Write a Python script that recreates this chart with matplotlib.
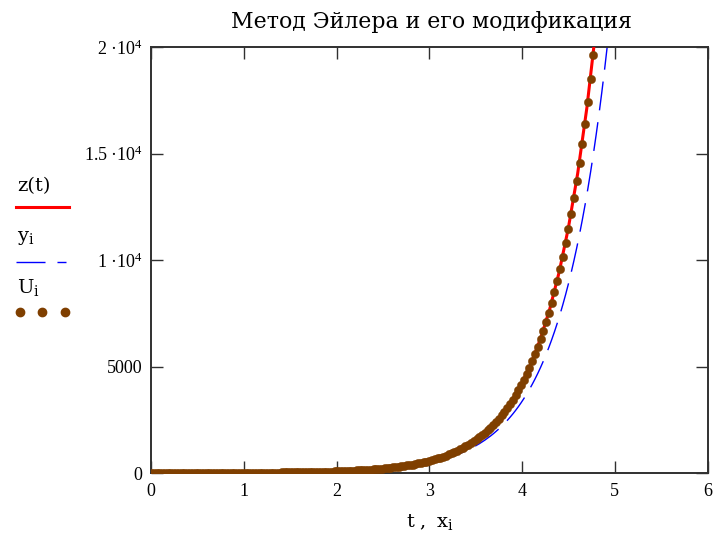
import matplotlib
matplotlib.use("Agg")
import matplotlib.pyplot as plt
from matplotlib.lines import Line2D

plt.rcParams['font.family'] = ['Liberation Serif', 'DejaVu Serif']
plt.rcParams['mathtext.fontset'] = 'custom'
plt.rcParams['mathtext.rm'] = 'Liberation Serif'
plt.rcParams['mathtext.it'] = 'Liberation Serif:italic'
plt.rcParams['lines.scale_dashes'] = False

# ---------------- data ----------------
title = "Метод Эйлера и его модификация"

# grid x_i
x_i = [0.00,0.03,0.06,0.09,0.12,0.15,0.18,0.21,0.24,0.27,
       0.30,0.33,0.36,0.39,0.42,0.45,0.48,0.51,0.54,0.57,
       0.60,0.63,0.66,0.69,0.72,0.75,0.78,0.81,0.84,0.87,
       0.90,0.93,0.96,0.99,1.02,1.05,1.08,1.11,1.14,1.17,
       1.20,1.23,1.26,1.29,1.32,1.35,1.38,1.41,1.44,1.47,
       1.50,1.53,1.56,1.59,1.62,1.65,1.68,1.71,1.74,1.77,
       1.80,1.83,1.86,1.89,1.92,1.95,1.98,2.01,2.04,2.07,
       2.10,2.13,2.16,2.19,2.22,2.25,2.28,2.31,2.34,2.37,
       2.40,2.43,2.46,2.49,2.52,2.55,2.58,2.61,2.64,2.67,
       2.70,2.73,2.76,2.79,2.82,2.85,2.88,2.91,2.94,2.97,
       3.00,3.03,3.06,3.09,3.12,3.15,3.18,3.21,3.24,3.27,
       3.30,3.33,3.36,3.39,3.42,3.45,3.48,3.51,3.54,3.57,
       3.60,3.63,3.66,3.69,3.72,3.75,3.78,3.81,3.84,3.87,
       3.90,3.93,3.96,3.99,4.02,4.05,4.08,4.11,4.14,4.17,
       4.20,4.23,4.26,4.29,4.32,4.35,4.38,4.41,4.44,4.47,
       4.50,4.53,4.56,4.59,4.62,4.65,4.68,4.71,4.74,4.77,
       4.80,4.83,4.86,4.89,4.92,4.95]

# modified Euler U_i (dots)
U_i = [1.42, 1.51, 1.60, 1.70, 1.80, 1.92, 2.03, 2.16, 2.29, 2.44,
       2.59, 2.75, 2.92, 3.10, 3.29, 3.49, 3.71, 3.94, 4.18, 4.44,
       4.71, 5.00, 5.31, 5.64, 5.99, 6.36, 6.75, 7.17, 7.61, 8.08,
       8.58, 9.11, 9.68, 10.27, 10.91, 11.58, 12.30, 13.06, 13.86, 14.72,
       15.63, 16.60, 17.62, 18.71, 19.87, 21.10, 22.40, 23.78, 25.25, 26.82,
       28.47, 30.23, 32.10, 34.08, 36.19, 38.43, 40.80, 43.32, 46.00, 48.84,
       51.86, 55.07, 58.47, 62.08, 65.92, 70.00, 74.32, 78.91, 83.79, 88.97,
       94.5, 100.3, 106.5, 113.1, 120.1, 127.5, 135.4, 143.7, 152.6, 162.1,
       172.1, 182.7, 194.0, 206.0, 218.7, 232.2, 246.6, 261.8, 278.0, 295.2,
       313.4, 332.8, 353.4, 375.2, 398.4, 423.0, 449.2, 476.9, 506.4, 537.7,
       570.9, 606.2, 643.6, 683.4, 725.7, 770.5, 818.1, 868.7, 922.4, 979.4,
       1040, 1104, 1172, 1245, 1322, 1403, 1490, 1582, 1680, 1784,
       1894, 2011, 2136, 2267, 2408, 2556, 2714, 2882, 3060, 3249,
       3450, 3663, 3890, 4130, 4385, 4657, 4944, 5250, 5574, 5919,
       6285, 6673, 7085, 7523, 7988, 8482, 9006, 9562, 10153, 10781,
       11447, 12155, 12906, 13703, 14550, 15450, 16404, 17418, 18494, 19638,
       20851, 22140, 23508, 24961, 26503, 28141]

# Euler y_i (blue dashed)
y_i = [1.42, 1.51, 1.60, 1.69, 1.79, 1.90, 2.01, 2.14, 2.26, 2.40,
       2.54, 2.70, 2.86, 3.03, 3.21, 3.40, 3.61, 3.82, 4.05, 4.30,
       4.55, 4.83, 5.12, 5.42, 5.75, 6.09, 6.46, 6.85, 7.26, 7.69,
       8.16, 8.65, 9.16, 9.71, 10.30, 10.91, 11.57, 12.26, 13.00, 13.78,
       14.61, 15.48, 16.41, 17.40, 18.44, 19.55, 20.72, 21.96, 23.28, 24.68,
       26.16, 27.73, 29.39, 31.15, 33.02, 35.00, 37.10, 39.33, 41.69, 44.19,
       46.84, 49.65, 52.63, 55.79, 59.14, 62.69, 66.45, 70.43, 74.66, 79.14,
       83.9, 88.9, 94.3, 99.9, 105.9, 112.3, 119.0, 126.1, 133.7, 141.7,
       150.2, 159.2, 168.8, 178.9, 189.7, 201.0, 213.1, 225.9, 239.4, 253.8,
       269.0, 285.2, 302.3, 320.4, 339.7, 360.0, 381.6, 404.5, 428.8, 454.5,
       481.8, 510.7, 541.4, 573.8, 608.3, 644.8, 683.5, 724.5, 767.9, 814.0,
       862.8, 914.6, 969.5, 1028, 1089, 1155, 1224, 1297, 1375, 1458,
       1545, 1638, 1736, 1840, 1951, 2068, 2192, 2323, 2463, 2611,
       2767, 2933, 3109, 3296, 3494, 3703, 3925, 4161, 4411, 4675,
       4956, 5253, 5568, 5902, 6257, 6632, 7030, 7452, 7899, 8373,
       8875, 9408, 9972, 10570, 11205, 11877, 12589, 13345, 14145, 14994,
       15894, 16847, 17858, 18930, 20066, 21270]

# exact solution z(t) (red line)
t = [0.0, 0.1, 0.2, 0.3, 0.4, 0.5, 0.6, 0.7, 0.8, 0.9,
     1.0, 1.1, 1.2, 1.3, 1.4, 1.5, 1.6, 1.7, 1.8, 1.9,
     2.0, 2.1, 2.2, 2.3, 2.4, 2.5, 2.6, 2.7, 2.8, 2.9,
     3.0, 3.1, 3.2, 3.3, 3.4, 3.5, 3.6, 3.7, 3.8, 3.9,
     4.0, 4.1, 4.2, 4.3, 4.4, 4.5, 4.6, 4.7, 4.8, 4.9,
     5.0]
z_t = [1.42, 1.73, 2.12, 2.59, 3.16, 3.86, 4.71, 5.76, 7.03, 8.59,
       10.49, 12.82, 15.65, 19.12, 23.35, 28.52, 34.84, 42.55, 51.97, 63.48,
       77.5, 94.7, 115.7, 141.3, 172.5, 210.7, 257.4, 314.4, 384.0, 469.0,
       572.9, 699.7, 854.6, 1044, 1275, 1557, 1902, 2323, 2837, 3466,
       4233, 5170, 6315, 7713, 9421, 11506, 14054, 17166, 20966, 25608,
       31278]

x_ticks = [0, 1, 2, 3, 4, 5, 6]
x_tick_labels = ['0', '1', '2', '3', '4', '5', '6']
y_ticks = [0, 5000, 10000, 15000, 20000]
y_tick_labels = ['0', '5000', r'$\mathrm{1\ ·10^{4}}$', r'$\mathrm{1.5\ ·10^{4}}$', r'$\mathrm{2\ ·10^{4}}$']

RED = '#ff0000'
BLUE = '#0000ff'
BROWN = '#7f3f00'
FRAME = '#303030'
MS = 6.0

# ---------------- figure ----------------
W, H = 714, 539
fig = plt.figure(figsize=(W / 100, H / 100), dpi=100)
ax = fig.add_axes([151 / W, 1 - 473 / H, (707.5 - 151) / W, (473 - 47) / H])

ax.plot(x_i, y_i, color=BLUE, lw=1.0, dashes=(20.9, 8.6), zorder=2)
ax.plot(t, z_t, color=RED, lw=2.2, zorder=3)
ax.plot(x_i, U_i, linestyle='none', marker='o', markersize=MS,
        markerfacecolor=BROWN, markeredgecolor=BROWN, markeredgewidth=0.3, zorder=4)

ax.set_xlim(0, 6)
ax.set_ylim(0, 20000)
ax.set_xticks(x_ticks)
ax.set_xticklabels(x_tick_labels)
ax.set_yticks(y_ticks)
ax.set_yticklabels(y_tick_labels)
ax.tick_params(direction='in', length=8.6, width=1.0, color=FRAME,
               top=True, right=True, labelsize=13, labelcolor='black')
ax.tick_params(axis='x', pad=7)
ax.tick_params(axis='y', pad=6)
for s in ax.spines.values():
    s.set_color(FRAME)
    s.set_linewidth(1.4)

ax.set_xlabel(r'$\mathrm{t\ ,\ x_i}$', fontsize=14, labelpad=9,
              math_fontfamily='dejavuserif')

fig.text(431 / W, 1 - 22 / H, title, ha='center', va='center',
         fontsize=15.8, family=['DejaVu Serif'])

# ---------------- legend (Mathcad style, left margin) ----------------
fig.text(17 / W, 1 - 186 / H, 'z(t)', ha='left', va='center', fontsize=14,
         family=['DejaVu Serif'])
fig.add_artist(Line2D([16 / W, 69 / W], [1 - 207 / H] * 2, color=RED, lw=2.2,
                      transform=fig.transFigure))
fig.text(17 / W, 1 - 238 / H, r'$\mathrm{y_i}$', ha='left', va='center', fontsize=14,
         math_fontfamily='dejavuserif')
fig.add_artist(Line2D([16 / W, 66 / W], [1 - 262 / H] * 2, color=BLUE, lw=1.0,
                      dashes=(20.9, 8.6), transform=fig.transFigure))
fig.text(17 / W, 1 - 287 / H, r'$\mathrm{U_i}$', ha='left', va='center', fontsize=14,
         math_fontfamily='dejavuserif')
fig.add_artist(Line2D([20 / W, 42 / W, 65 / W], [1 - 312 / H] * 3, linestyle='none',
                      marker='o', markersize=MS, markerfacecolor=BROWN,
                      markeredgecolor=BROWN, transform=fig.transFigure))

fig.savefig('out.png', dpi=100)
